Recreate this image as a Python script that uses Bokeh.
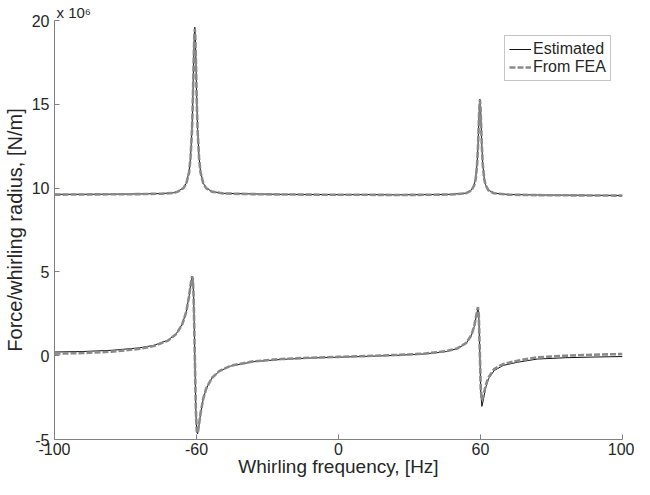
from bokeh.plotting import figure
from bokeh.models import Range1d, FixedTicker, Title, Legend, LegendItem
from bokeh.embed import file_html
from bokeh.resources import INLINE

# ---- data (force / whirling radius in units of 1e6 N/m) ----
x_tick_positions = [-100, -50, 0, 50, 100]
x_tick_labels = ["-100", "-60", "0", "60", "100"]
y_tick_positions = [-5, 0, 5, 10, 15, 20]
y_tick_labels = ["-5", "0", "5", "10", "15", "20"]

freq_upper = [-100, -90, -80, -70, -62, -58, -56.6, -54.6, -53.6, -52.6, -52.1,
              -51.6, -51.4, -51.2, -51.0, -50.8, -50.6, -50.4, -50.2, -50.0, -49.8,
              -49.6, -49.1, -48.6, -47.6, -46.6, -44.6, -40.6, -30, -20, -10, 0, 10,
              20, 30, 39.8, 44.8, 46.8, 47.8, 48.3, 48.8, 49.1, 49.4, 49.6, 49.8,
              50.0, 50.2, 50.5, 50.8, 51.3, 51.8, 52.8, 54.8, 59.8, 70, 80, 90, 100]
upper_estimated = [9.63, 9.63, 9.64, 9.65, 9.68, 9.72, 9.80, 10.01, 10.29, 11.0, 11.83,
                   13.5, 14.6, 16.0, 17.6, 19.0, 19.6, 19.0, 17.6, 16.0, 14.6,
                   13.5, 11.83, 11.0, 10.29, 10.01, 9.80, 9.69, 9.65, 9.63, 9.62, 9.61, 9.61,
                   9.60, 9.61, 9.63, 9.70, 9.88, 10.2, 10.6, 11.45, 12.43, 13.9, 14.85, 15.3,
                   14.85, 13.9, 12.43, 11.45, 10.6, 10.2, 9.88, 9.70, 9.62, 9.59, 9.58, 9.57, 9.56]
upper_fea = [9.61, 9.62, 9.63, 9.64, 9.67, 9.71, 9.79, 10.0, 10.27, 10.95, 11.8,
             13.4, 14.5, 15.9, 17.5, 18.9, 19.5, 18.95, 17.5, 15.9, 14.5,
             13.4, 11.8, 10.95, 10.27, 10.0, 9.79, 9.68, 9.64, 9.62, 9.61, 9.60, 9.60,
             9.59, 9.60, 9.62, 9.69, 9.86, 10.17, 10.55, 11.4, 12.4, 13.85, 14.8, 15.25,
             14.8, 13.85, 12.4, 11.4, 10.55, 10.17, 9.86, 9.69, 9.61, 9.58, 9.57, 9.56, 9.55]

freq_lower = [-100, -90, -80, -70, -65, -60, -57, -55, -53.6, -52.6, -52.1,
              -51.6, -51.3, -51.0, -50.6, -50.2, -49.9, -49.6, -49.1, -48.6, -47.6,
              -46.6, -44.6, -42, -38, -30, -20, -10, 0, 10, 20,
              30, 38, 42, 45, 46.8, 47.8, 48.4, 49.1, 49.4, 49.8,
              50.1, 50.5, 51.0, 51.8, 52.8, 54.8, 58, 63, 70, 80, 90, 100]
lower_estimated = [0.22, 0.25, 0.32, 0.47, 0.62, 0.93, 1.34, 1.89, 2.64, 3.57, 4.2,
                   4.74, 4.62, 3.54, 0.04, -3.46, -4.54, -4.66, -4.13, -3.49, -2.56,
                   -1.98, -1.34, -0.93, -0.62, -0.36, -0.22, -0.14, -0.09, -0.04, 0.02,
                   0.10, 0.25, 0.43, 0.75, 1.21, 1.74, 2.25, 2.84, 2.43, -0.09,
                   -2.21, -3.02, -2.64, -1.92, -1.39, -0.89, -0.58, -0.39, -0.2, -0.12, -0.08, -0.05]
lower_fea = [0.12, 0.16, 0.24, 0.41, 0.58, 0.9, 1.32, 1.88, 2.63, 3.56, 4.2,
             4.72, 4.6, 3.5, 0.0, -3.4, -4.5, -4.62, -4.1, -3.47, -2.55,
             -1.97, -1.33, -0.92, -0.6, -0.34, -0.2, -0.12, -0.07, -0.02, 0.04,
             0.12, 0.27, 0.45, 0.77, 1.23, 1.77, 2.3, 2.9, 2.4, -0.05,
             -2.0, -2.65, -2.4, -1.8, -1.3, -0.8, -0.5, -0.3, -0.1, 0.0, 0.06, 0.1]

FONT = "Liberation Sans"
TEXT = "#262626"
AXIS = "#808080"

p = figure(width=634, height=479, x_range=Range1d(-100, 100), y_range=Range1d(-5, 20),
           output_backend="svg", toolbar_location=None,
           min_border_left=54, min_border_right=12, min_border_top=20, min_border_bottom=30,
           outline_line_color=None, background_fill_color="white")
p.xgrid.visible = False
p.ygrid.visible = False

for ax in (p.xaxis[0], p.yaxis[0]):
    ax.axis_line_color = AXIS
    ax.major_tick_line_color = AXIS
    ax.major_tick_in = 5
    ax.major_tick_out = 0
    ax.minor_tick_in = 0
    ax.minor_tick_out = 0
    ax.minor_tick_line_color = None
    ax.major_label_text_font = FONT
    ax.major_label_text_color = TEXT
    ax.major_label_text_font_size = "16px"
    ax.axis_label_text_font = FONT
    ax.axis_label_text_color = TEXT
    ax.axis_label_text_font_style = "normal"

p.xaxis.axis_label_text_font_size = "19px"
p.yaxis.axis_label_text_font_size = "20px"
p.xaxis.ticker = FixedTicker(ticks=x_tick_positions)
p.xaxis.major_label_overrides = dict(zip(x_tick_positions, x_tick_labels))
p.yaxis.ticker = FixedTicker(ticks=y_tick_positions)
p.yaxis.major_label_overrides = dict(zip(y_tick_positions, y_tick_labels))
p.xaxis.axis_label = "Whirling frequency, [Hz]"
p.yaxis.axis_label = "Force/whirling radius, [N/m]"
p.xaxis.major_label_standoff = 3
p.xaxis.axis_label_standoff = -2
p.yaxis.major_label_standoff = 5
p.yaxis.axis_label_standoff = 3

r_est_u = p.line(freq_upper, upper_estimated, line_color="#111111", line_width=1)
r_est_l = p.line(freq_lower, lower_estimated, line_color="#111111", line_width=1)
r_fea_u = p.line(freq_upper, upper_fea, line_color="#8a8a8a", line_width=2.6, line_dash="6 2")
r_fea_l = p.line(freq_lower, lower_fea, line_color="#8a8a8a", line_width=2.6, line_dash="6 2")

legend = Legend(items=[LegendItem(label="Estimated", renderers=[r_est_u]),
                       LegendItem(label="From FEA", renderers=[r_fea_u])],
                location=(450, 358), padding=4, spacing=0,
                label_standoff=2, glyph_width=22, glyph_height=18, label_height=18,
                label_text_font=FONT, label_text_font_size="16px", label_text_color=TEXT,
                border_line_color="#8c8c8c", border_line_width=1,
                background_fill_color="white", background_fill_alpha=1)
p.add_layout(legend)

p.add_layout(Title(text="x 10\u2076", align="left", offset=2, standoff=0,
                   text_font=FONT, text_font_size="15px", text_font_style="normal",
                   text_color=TEXT), "above")

open("out.html", "w").write(file_html(p, INLINE))
